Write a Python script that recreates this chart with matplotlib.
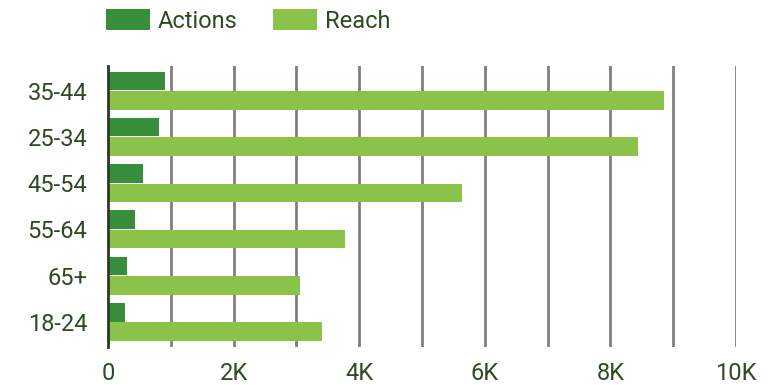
import matplotlib.pyplot as plt
import numpy as np

# age groups, top to bottom
age_groups = ['35-44', '25-34', '45-54', '55-64', '65+', '18-24']
actions = [910, 810, 560, 430, 300, 270]
reach = [8850, 8440, 5630, 3780, 3050, 3400]

x_ticks = [0, 2000, 4000, 6000, 8000, 10000]
x_tick_labels = ['0', '2K', '4K', '6K', '8K', '10K']

text_color = '#2f4a22'
actions_color = '#388e3c'
reach_color = '#8bc34a'

plt.rcParams['font.family'] = ['Roboto', 'DejaVu Sans']

fig = plt.figure(figsize=(7.79, 3.85), dpi=100)
ax = fig.add_axes([108 / 779, 1 - 347 / 385, 628 / 779, 281 / 385])

y = np.arange(len(age_groups))
bar_h = 0.4
ax.barh(y - 0.21, actions, height=bar_h, color=actions_color, label='Actions', zorder=3)
ax.barh(y + 0.21, reach, height=bar_h, color=reach_color, label='Reach', zorder=3)

ax.set_xlim(0, 10000)
ax.set_ylim(5.54, -0.53)

# vertical gridlines every 1K
for gx in range(1000, 10001, 1000):
    ax.axvline(gx, color='#808080', linewidth=2, zorder=1)

ax.set_xticks(x_ticks)
ax.set_xticklabels(x_tick_labels)
ax.set_yticks(y)
ax.set_yticklabels(age_groups)
ax.tick_params(axis='both', length=0, labelsize=17, labelcolor=text_color)
ax.tick_params(axis='x', pad=11)
ax.tick_params(axis='y', pad=15)

for side in ['top', 'right', 'bottom']:
    ax.spines[side].set_visible(False)
ax.spines['left'].set_color('#2b3a22')
ax.spines['left'].set_linewidth(2)
ax.spines['left'].set_zorder(4)

leg = fig.legend(loc='center left', bbox_to_anchor=(94 / 779, 1 - 21 / 385),
                 ncol=2, frameon=False, fontsize=17, borderpad=0,
                 handlelength=1.86, handleheight=0.97, handletextpad=0.34,
                 columnspacing=1.5)
for t in leg.get_texts():
    t.set_color(text_color)

fig.savefig('out.png', dpi=100)
